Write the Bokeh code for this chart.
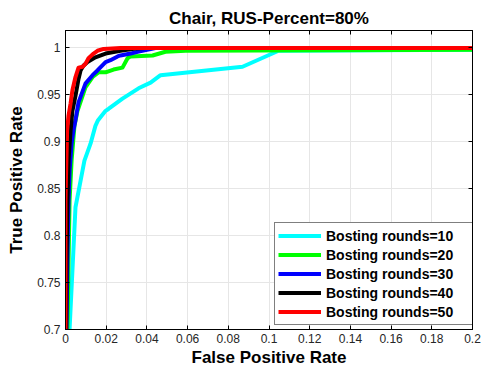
from bokeh.plotting import figure
from bokeh.models import Range1d, FixedTicker, LinearAxis, Title
from bokeh.embed import file_html
from bokeh.resources import INLINE

# ---- data ----
fpr_10 = [0.002, 0.0049, 0.0093, 0.0123, 0.0147, 0.016, 0.0197, 0.0211, 0.028, 0.0359, 0.0418, 0.0467, 0.087, 0.1047, 0.2]
tpr_10 = [0.700, 0.830, 0.880, 0.898, 0.917, 0.923, 0.933, 0.935, 0.946, 0.957, 0.963, 0.971, 0.980, 0.997, 0.998]

fpr_20 = [0.001, 0.0015, 0.002, 0.003, 0.0044, 0.0059, 0.0098, 0.0133, 0.0162, 0.0197, 0.0236, 0.028, 0.0305, 0.032, 0.0428, 0.0491, 0.059, 0.2]
tpr_20 = [0.700, 0.773, 0.837, 0.880, 0.917, 0.933, 0.958, 0.969, 0.974, 0.974, 0.977, 0.979, 0.989, 0.991, 0.992, 0.996, 0.997, 0.998]

fpr_30 = [0.0005, 0.001, 0.0015, 0.002, 0.003, 0.0039, 0.0049, 0.0064, 0.0098, 0.0133, 0.0157, 0.0197, 0.0221, 0.0256, 0.027, 0.032, 0.0354, 0.0442, 0.2]
tpr_30 = [0.700, 0.784, 0.837, 0.869, 0.898, 0.912, 0.923, 0.942, 0.962, 0.971, 0.976, 0.985, 0.987, 0.991, 0.992, 0.994, 0.996, 1.000, 1.000]

fpr_40 = [0.0003, 0.0005, 0.001, 0.0015, 0.0025, 0.0034, 0.0049, 0.0064, 0.0074, 0.0088, 0.0108, 0.0147, 0.0197, 0.027, 0.0344, 0.0393, 0.2]
tpr_40 = [0.700, 0.773, 0.837, 0.880, 0.912, 0.933, 0.949, 0.967, 0.976, 0.981, 0.985, 0.990, 0.994, 0.997, 0.9995, 1.000, 1.000]

fpr_50 = [0.0, 0.0, 0.0002, 0.0008, 0.0015, 0.0025, 0.0034, 0.0049, 0.0064, 0.0084, 0.0098, 0.0113, 0.0138, 0.0157, 0.0187, 0.027, 0.2]
tpr_50 = [0.700, 0.837, 0.859, 0.912, 0.928, 0.941, 0.955, 0.969, 0.979, 0.980, 0.983, 0.989, 0.994, 0.997, 0.999, 1.000, 1.000]

series_labels = ["Bosting rounds=10", "Bosting rounds=20", "Bosting rounds=30",
                 "Bosting rounds=40", "Bosting rounds=50"]
series_colors = ["#00FFFF", "#00FF00", "#0000FF", "#000000", "#FF0000"]

x_ticks = [0.0, 0.02, 0.04, 0.06, 0.08, 0.1, 0.12, 0.14, 0.16, 0.18, 0.2]
x_tick_labels = ["0", "0.02", "0.04", "0.06", "0.08", "0.1", "0.12", "0.14", "0.16", "0.18", "0.2"]
y_ticks = [0.7, 0.75, 0.8, 0.85, 0.9, 0.95, 1.0]
y_tick_labels = ["0.7", "0.75", "0.8", "0.85", "0.9", "0.95", "1"]

title_text = "Chair, RUS-Percent=80%"
x_label = "False Positive Rate"
y_label = "True Positive Rate"

FONT = "Liberation Sans"

p = figure(width=481, height=366, output_backend="svg", toolbar_location=None,
           x_range=Range1d(0, 0.2), y_range=Range1d(0.7, 1.0186),
           min_border_left=65, min_border_right=9, min_border_top=30, min_border_bottom=37)

p.title.text = title_text
p.title.text_font = FONT
p.title.text_font_size = "17px"
p.title.text_font_style = "bold"
p.title.align = "center"
p.title.standoff = 6
p.title.text_color = "black"

p.outline_line_color = "black"
p.background_fill_color = "white"
p.border_fill_color = "white"

xs = [fpr_10, fpr_20, fpr_30, fpr_40, fpr_50]
ys = [tpr_10, tpr_20, tpr_30, tpr_40, tpr_50]
for x, y, c, lab in zip(xs, ys, series_colors, series_labels):
    p.line(x, y, line_color=c, line_width=4, legend_label=lab, line_join="round")

# main axes
for ax in (p.xaxis[0], p.yaxis[0]):
    ax.major_tick_in = 4
    ax.major_tick_out = 0
    ax.minor_tick_line_color = None
    ax.axis_line_color = "black"
    ax.major_tick_line_color = "black"
    ax.major_label_text_font = FONT
    ax.major_label_text_font_size = "12px"
    ax.major_label_text_color = "#262626"
    ax.axis_label_text_font = FONT
    ax.axis_label_text_font_size = "17px"
    ax.axis_label_text_font_style = "bold"
    ax.axis_label_text_color = "black"

p.xaxis[0].ticker = FixedTicker(ticks=x_ticks)
p.xaxis[0].major_label_overrides = dict(zip(x_ticks, x_tick_labels))
p.xaxis[0].major_label_standoff = 4

p.add_layout(Title(text=x_label, align="center", text_font=FONT, text_font_size="17px",
                   text_font_style="bold", text_color="black", standoff=0), "below")

p.yaxis[0].ticker = FixedTicker(ticks=y_ticks)
p.yaxis[0].major_label_overrides = dict(zip(y_ticks, y_tick_labels))
p.yaxis[0].axis_label = y_label
p.yaxis[0].major_label_standoff = 5
p.yaxis[0].axis_label_standoff = 8

# top and right box axes with inward ticks, labels not drawn
top = LinearAxis(ticker=FixedTicker(ticks=x_ticks), major_label_text_font_size="1px",
                 major_label_text_color=None,
                 major_label_standoff=0, major_tick_in=4, major_tick_out=0,
                 minor_tick_line_color=None, axis_line_color="black")
right = LinearAxis(ticker=FixedTicker(ticks=y_ticks), major_label_text_font_size="1px",
                   major_label_text_color=None,
                   major_label_standoff=0, major_tick_in=4, major_tick_out=0,
                   minor_tick_line_color=None, axis_line_color="black")
p.add_layout(top, "above")
p.add_layout(right, "right")

p.xgrid.ticker = FixedTicker(ticks=x_ticks)
p.ygrid.ticker = FixedTicker(ticks=y_ticks)
p.grid.grid_line_color = "#e6e6e6"
p.grid.grid_line_width = 1

lg = p.legend[0]
lg.location = (209, 4)
lg.margin = 0
lg.padding = 3
lg.spacing = 0
lg.glyph_width = 43
lg.glyph_height = 19
lg.label_height = 19
lg.label_width = 144
lg.label_standoff = 5
lg.label_text_font = FONT
lg.label_text_font_size = "14px"
lg.label_text_font_style = "bold"
lg.label_text_color = "black"
lg.border_line_color = "black"
lg.border_line_width = 1
lg.background_fill_color = "white"
lg.background_fill_alpha = 1.0

open("out.html", "w").write(file_html(p, INLINE))
